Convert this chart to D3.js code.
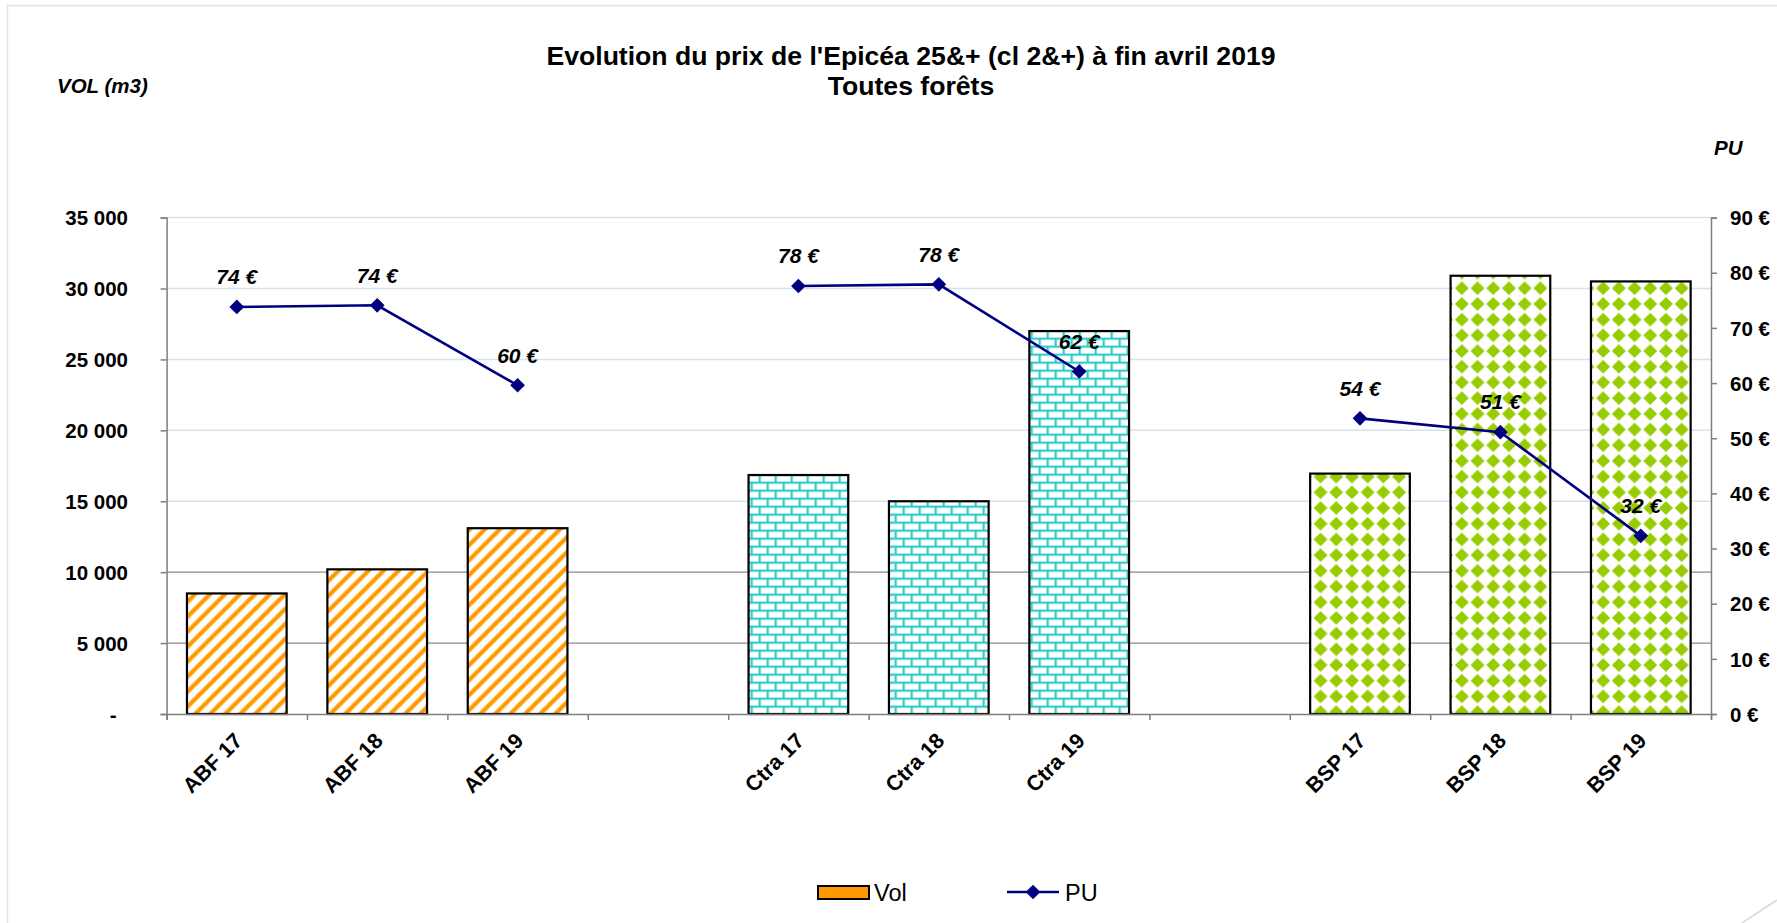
<!DOCTYPE html>
<html>
<head>
<meta charset="utf-8">
<script src="https://cdn.jsdelivr.net/npm/d3@7"></script>
<style>
  body { margin: 0; background: #fff; }
  svg { display: block; font-family: "Liberation Sans", Arial, sans-serif; }
</style>
</head>
<body>
<div id="chart"></div>
<script>
// data
const groups = ["ABF", "Ctra", "BSP"];
const categories = ["ABF 17", "ABF 18", "ABF 19", "Ctra 17", "Ctra 18", "Ctra 19", "BSP 17", "BSP 18", "BSP 19"];
const volumes = [8500, 10200, 13100, 16850, 15000, 27000, 16950, 30900, 30500];
const prices = [73.8, 74.1, 59.6, 77.6, 77.9, 62.1, 53.6, 51.1, 32.3];
const volTicks = [0, 5000, 10000, 15000, 20000, 25000, 30000, 35000];
const puTicks = [0, 10, 20, 30, 40, 50, 60, 70, 80, 90];

const W = 1777, H = 923;
const margin = { top: 217.6, right: 66, bottom: 209, left: 166.6 };
const innerW = W - margin.left - margin.right,
    innerH = H - margin.top - margin.bottom;

const fillColors = { ABF: "#FF9900", Ctra: "#33CCCC", BSP: "#99CC00" };
const lineColor = "#000080";

// slots: one empty slot between the groups
const slots = [];
groups.forEach((g, i) => {
    categories.filter(c => c.startsWith(g + " ")).forEach(c => slots.push(c));
    if (i < groups.length - 1) slots.push("gap" + i);
});
const groupOf = c => c.split(" ")[0];

const svg = d3.select("#chart").append("svg")
    .attr("width", W)
    .attr("height", H);

// frame
svg.append("path")
    .attr("d", "M7.5,923 L7.5,5.5 L1777,5.5")
    .attr("fill", "none")
    .attr("stroke", "#e2e2e2")
    .attr("stroke-width", 1.5);
svg.append("line")
    .attr("x1", 1742).attr("y1", 923).attr("x2", 1777).attr("y2", 900)
    .attr("stroke", "#d8d8d8").attr("stroke-width", 1.5);

// patterns
const defs = svg.append("defs");
const stripes = defs.append("pattern")
    .attr("id", "pat-ABF").attr("patternUnits", "userSpaceOnUse")
    .attr("width", 15).attr("height", 15);
stripes.append("rect").attr("width", 15).attr("height", 15).attr("fill", "#fff");
stripes.selectAll("line")
    .data([[-7.5, 7.5, 7.5, -7.5], [0, 15, 15, 0], [7.5, 22.5, 22.5, 7.5]])
    .enter().append("line")
    .attr("x1", d => d[0]).attr("y1", d => d[1])
    .attr("x2", d => d[2]).attr("y2", d => d[3])
    .attr("stroke", fillColors.ABF).attr("stroke-width", 4.2);

const bricks = defs.append("pattern")
    .attr("id", "pat-Ctra").attr("patternUnits", "userSpaceOnUse")
    .attr("width", 16).attr("height", 16);
bricks.append("rect").attr("width", 16).attr("height", 16).attr("fill", "#fff");
bricks.selectAll("rect.b")
    .data([[0, 0, 16, 2.2], [0, 8, 16, 2.2], [0, 2, 2.2, 6], [8, 10, 2.2, 6]])
    .enter().append("rect").attr("class", "b")
    .attr("x", d => d[0]).attr("y", d => d[1])
    .attr("width", d => d[2]).attr("height", d => d[3])
    .attr("fill", fillColors.Ctra);

const diamonds = defs.append("pattern")
    .attr("id", "pat-BSP").attr("patternUnits", "userSpaceOnUse")
    .attr("width", 15.7).attr("height", 15.7);
diamonds.append("rect").attr("width", 15.7).attr("height", 15.7).attr("fill", "#fff");
diamonds.append("path")
    .attr("d", "M7.85,0.9 L14.8,7.85 L7.85,14.8 L0.9,7.85Z")
    .attr("fill", fillColors.BSP);

const g = svg.append("g")
    .attr("transform", "translate(" + margin.left + "," + margin.top + ")");

const x = d3.scaleBand()
    .domain(slots)
    .range([0, innerW])
    .paddingInner(0.29)
    .paddingOuter(0.145);

const xSlots = d3.scaleLinear()
    .domain([0, slots.length])
    .range([0, innerW]);

const yVol = d3.scaleLinear().domain([0, 35000]).range([innerH, 0]);
const yPU = d3.scaleLinear().domain([0, 90]).range([innerH, 0]);

const fr = d3.formatLocale({ decimal: ",", thousands: " ", grouping: [3], currency: ["", " €"] });
const fmtVol = fr.format(",.0f");

// gridlines
g.append("g").selectAll("line")
    .data(volTicks.filter(d => d > 0))
    .enter().append("line")
    .attr("x1", 0).attr("x2", innerW)
    .attr("y1", d => yVol(d)).attr("y2", d => yVol(d))
    .attr("stroke", d => d <= 10000 ? "#8a8a8a" : "#d5e2f0")
    .attr("stroke-width", d => d <= 10000 ? 1.2 : 1.5);

// bars
g.append("g").selectAll("rect")
    .data(categories)
    .enter().append("rect")
    .attr("x", d => x(d))
    .attr("y", (d, i) => yVol(volumes[i]))
    .attr("width", x.bandwidth())
    .attr("height", (d, i) => innerH - yVol(volumes[i]))
    .attr("fill", d => "url(#pat-" + groupOf(d) + ")")
    .attr("stroke", "#000")
    .attr("stroke-width", 2.2);

// axes
const axisColor = "#7f7f7f";
const styleAxis = sel => {
    sel.select(".domain").attr("stroke", axisColor).attr("stroke-width", 1.5);
    sel.selectAll(".tick line").attr("stroke", axisColor).attr("stroke-width", 1.5);
    sel.selectAll("text")
        .attr("fill", "#000")
        .attr("font-size", 20.5)
        .attr("font-weight", "bold");
};

const yAxisL = g.append("g")
    .call(d3.axisLeft(yVol).tickValues(volTicks).tickSize(6).tickPadding(0)
        .tickFormat(d => d === 0 ? "-" : fmtVol(d)))
    .call(styleAxis);
yAxisL.selectAll("text")
    .attr("x", d => d === 0 ? -50 : -38.6)
    .attr("dy", "0.35em");

const yAxisR = g.append("g")
    .attr("transform", "translate(" + innerW + ",0)")
    .call(d3.axisRight(yPU).tickValues(puTicks).tickSize(6)
        .tickFormat(d => d + " €"))
    .call(styleAxis);
yAxisR.selectAll("text").attr("x", 19).attr("dy", "0.35em");

const xAxis = g.append("g")
    .attr("transform", "translate(0," + innerH + ")")
    .call(d3.axisBottom(xSlots).ticks(slots.length).tickSize(6).tickFormat(""))
    .call(styleAxis);

g.append("g").selectAll("text")
    .data(categories)
    .enter().append("text")
    .attr("transform", d => "translate(" + (x(d) + x.bandwidth() / 2 + 7) + "," + (innerH + 28) + ") rotate(-45)")
    .attr("text-anchor", "end")
    .attr("font-size", 21.5)
    .attr("font-weight", "bold")
    .text(d => d);

// PU line, one segment per group
const line = d3.line()
    .x(d => x(d.cat) + x.bandwidth() / 2)
    .y(d => yPU(d.pu));
const points = categories.map((c, i) => ({ cat: c, pu: prices[i] }));

g.append("g").selectAll("path")
    .data(groups.map(gr => points.filter(p => groupOf(p.cat) === gr)))
    .enter().append("path")
    .attr("d", line)
    .attr("fill", "none")
    .attr("stroke", lineColor)
    .attr("stroke-width", 2.6);

g.append("g").selectAll("path")
    .data(points)
    .enter().append("path")
    .attr("d", d3.symbol(d3.symbolSquare, 108))
    .attr("transform", d => "translate(" + (x(d.cat) + x.bandwidth() / 2) + "," + yPU(d.pu) + ") rotate(45)")
    .attr("fill", lineColor);

g.append("g").selectAll("text")
    .data(points)
    .enter().append("text")
    .attr("x", d => x(d.cat) + x.bandwidth() / 2)
    .attr("y", d => yPU(d.pu) - 30)
    .attr("dy", "0.35em")
    .attr("text-anchor", "middle")
    .attr("font-size", 21)
    .attr("font-weight", "bold")
    .attr("font-style", "italic")
    .text(d => Math.round(d.pu) + " €");

// titles
svg.append("text")
    .attr("x", 911).attr("y", 55.5).attr("dy", "0.35em")
    .attr("text-anchor", "middle")
    .attr("font-size", 26.6).attr("font-weight", "bold")
    .text("Evolution du prix de l'Epicéa 25&+ (cl 2&+) à fin avril 2019");
svg.append("text")
    .attr("x", 911).attr("y", 86).attr("dy", "0.35em")
    .attr("text-anchor", "middle")
    .attr("font-size", 26.6).attr("font-weight", "bold")
    .text("Toutes forêts");

svg.append("text")
    .attr("x", 57).attr("y", 86).attr("dy", "0.35em")
    .attr("font-size", 20.5).attr("font-weight", "bold").attr("font-style", "italic")
    .text("VOL (m3)");
svg.append("text")
    .attr("x", 1714).attr("y", 148).attr("dy", "0.35em")
    .attr("font-size", 20.5).attr("font-weight", "bold").attr("font-style", "italic")
    .text("PU");

// legend
const legend = svg.append("g");
legend.append("rect")
    .attr("x", 818).attr("y", 886).attr("width", 51).attr("height", 13)
    .attr("fill", fillColors.ABF).attr("stroke", "#000").attr("stroke-width", 2);
legend.append("text")
    .attr("x", 874).attr("y", 892.5).attr("dy", "0.35em")
    .attr("font-size", 23.5)
    .text("Vol");
legend.append("line")
    .attr("x1", 1007).attr("x2", 1059).attr("y1", 892).attr("y2", 892)
    .attr("stroke", lineColor).attr("stroke-width", 2.6);
legend.append("path")
    .attr("d", d3.symbol(d3.symbolSquare, 108))
    .attr("transform", "translate(1033,892) rotate(45)")
    .attr("fill", lineColor);
legend.append("text")
    .attr("x", 1065).attr("y", 892.5).attr("dy", "0.35em")
    .attr("font-size", 23.5)
    .text("PU");
</script>
</body>
</html>
